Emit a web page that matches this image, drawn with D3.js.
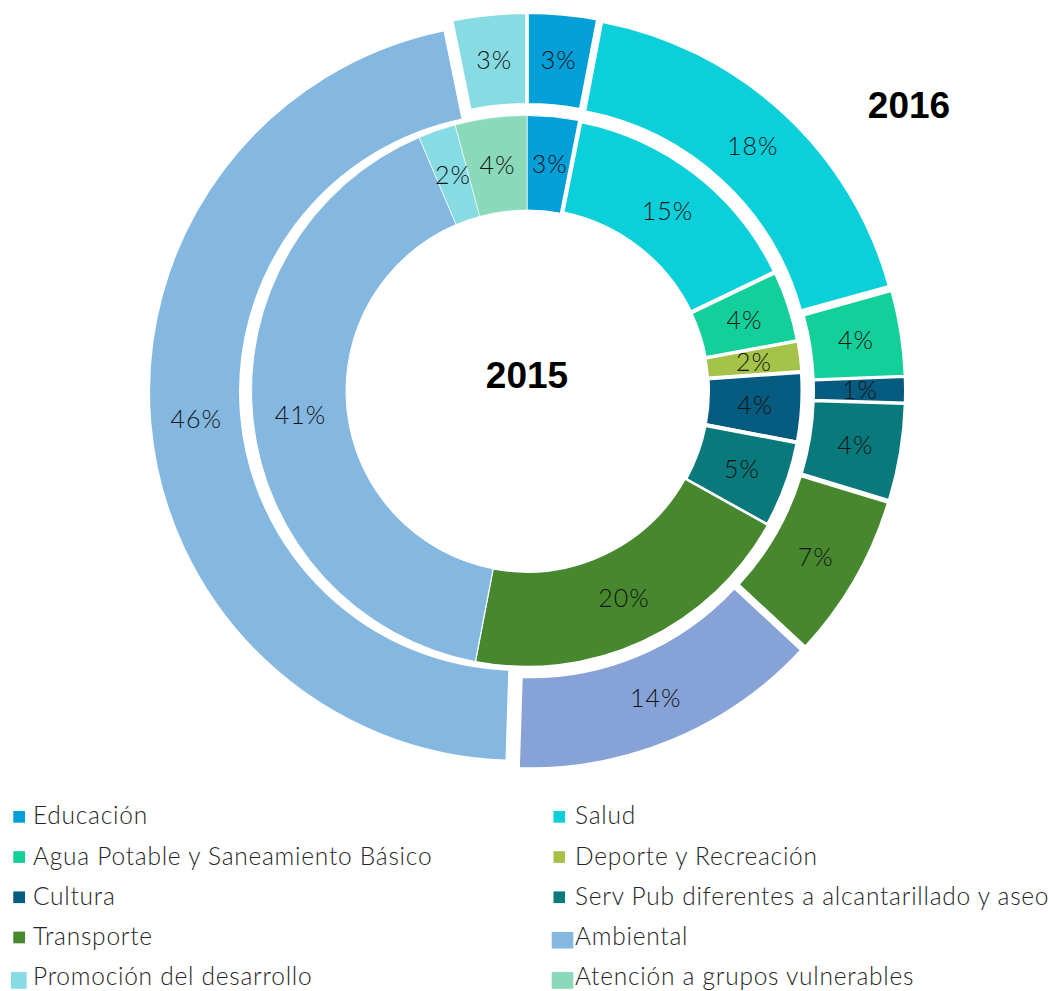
<!DOCTYPE html>
<html>
<head>
<meta charset="utf-8">
<script src="https://cdn.jsdelivr.net/npm/d3@7/dist/d3.min.js"></script>
<style>
  html, body { margin: 0; padding: 0; background: #ffffff; }
  svg { display: block; }
</style>
</head>
<body>
<div id="chart"></div>
<script>
// ---------------- data ----------------
const categories = [
  "Educación",
  "Salud",
  "Agua Potable y Saneamiento Básico",
  "Deporte y Recreación",
  "Cultura",
  "Serv Pub diferentes a alcantarillado y aseo",
  "Transporte",
  "Ambiental",
  "Promoción del desarrollo",
  "Atención a grupos vulnerables",
  "Otros sectores"
];
// ring order, clockwise from 12 o'clock (indices into categories)
const ringOrder = [0, 1, 2, 3, 4, 5, 6, 10, 7, 8, 9];
// shares (%), in categories order
const values2015 = [3.1, 14.8, 4.2, 1.8, 4.1, 5.1, 19.9, 40.6, 2.2, 4.2, 0];
const values2016 = [3.0, 17.7, 3.7, 0, 1.1, 4.2, 7.2, 46.3, 3.2, 0, 13.6];
const ringTitles = ["2015", "2016"];
const legendCategories = categories.slice(0, 10);

// ---------------- styles ----------------
const colors = ["#039fd8", "#0bcfd9", "#13cf99", "#a5c249", "#065b80",
                "#0a797c", "#47882f", "#85b8e0", "#87dce3", "#89d9ba", "#86a2d6"];
const innerStroke = [1, 4.5, 4, 3, 4, 4, 1.5, 1, 0.6, 0.6, 1];
const W = 1049, H = 991;
const cx = 527, cy = 391;
const inner = { r0: 181, r1: 275.5 };
const outer = { r0: 278, r1: 369, explode: 9, stroke: 2 };

const svg = d3.select("#chart").append("svg")
  .attr("width", W).attr("height", H)
  .attr("viewBox", `0 0 ${W} ${H}`);

const g = svg.append("g").attr("transform", `translate(${cx},${cy})`);

const pie = d3.pie().sort(null).value(d => d.v).startAngle(0).endAngle(2 * Math.PI);

function ringData(vals) {
  const total = d3.sum(vals);
  return pie(ringOrder.map(i => ({ i, v: vals[i], pct: vals[i] / total * 100 })))
    .filter(d => d.data.v > 0);
}

const innerArcs = ringData(values2015);
const outerArcs = ringData(values2016);

const arcInner = d3.arc().innerRadius(inner.r0).outerRadius(inner.r1);
const arcOuter = d3.arc().innerRadius(outer.r0).outerRadius(outer.r1);

function offset(d, e) {
  const a = (d.startAngle + d.endAngle) / 2;
  return [e * Math.sin(a), -e * Math.cos(a)];
}

// inner ring (2015)
g.append("g").selectAll("path").data(innerArcs).join("path")
  .attr("d", arcInner)
  .attr("fill", d => colors[d.data.i])
  .attr("stroke", "#ffffff")
  .attr("stroke-width", d => innerStroke[d.data.i])
  .attr("stroke-linejoin", "miter");

// outer ring (2016), exploded
g.append("g").selectAll("path").data(outerArcs).join("path")
  .attr("transform", d => { const o = offset(d, outer.explode); return `translate(${o[0]},${o[1]})`; })
  .attr("d", arcOuter)
  .attr("fill", d => colors[d.data.i])
  .attr("stroke", "#ffffff")
  .attr("stroke-width", outer.stroke)
  .attr("stroke-linejoin", "miter");

// labels
const labelFont = "Lato, 'Open Sans', sans-serif";
function addLabels(arcs, arcGen, e) {
  g.append("g").selectAll("text").data(arcs).join("text")
    .attr("transform", d => {
      const c = arcGen.centroid(d), o = offset(d, e);
      return `translate(${c[0] + o[0] + 0.5},${c[1] + o[1]})`;
    })
    .attr("text-anchor", "middle")
    .attr("dy", "0.36em")
    .attr("font-family", labelFont)
    .attr("font-weight", 300)
    .attr("font-size", 25)
    .attr("letter-spacing", 1)
    .attr("fill", "#141414")
    .text(d => Math.round(d.data.pct) + "%");
}
addLabels(innerArcs, arcInner, 0);
addLabels(outerArcs, arcOuter, outer.explode);

// ring titles
const titleFont = "'Liberation Sans', Arial, sans-serif";
svg.append("text")
  .attr("x", 527).attr("y", 388)
  .attr("text-anchor", "middle")
  .attr("font-family", titleFont).attr("font-weight", 700).attr("font-size", 37)
  .attr("fill", "#000000")
  .text(ringTitles[0]);
svg.append("text")
  .attr("x", 909).attr("y", 118)
  .attr("text-anchor", "middle")
  .attr("font-family", titleFont).attr("font-weight", 700).attr("font-size", 37)
  .attr("fill", "#000000")
  .text(ringTitles[1]);

// legend
const legendCols = [{ mx: 25, tx: 33 }, { mx: 565, tx: 575 }];
const legendRow0 = 824.3, legendRowStep = 40.2;
// marker sizes [width, height, right-edge extra]
const legendMarker = [
  [11.7, 11.7, 0], [11.5, 11.7, 0], [11.7, 11.7, 0], [11.5, 11.7, 0],
  [11.7, 11.7, 0], [11.5, 11.7, 0], [11.7, 11.7, 0], [21.6, 16.7, 8.3],
  [15.7, 16.7, 1.7], [21.6, 16.7, 8.3]
];
const leg = svg.append("g");
legendCategories.forEach((name, k) => {
  const col = legendCols[k % 2];
  const row = Math.floor(k / 2);
  const base = legendRow0 + row * legendRowStep;
  const [mw, mh, ext] = legendMarker[k];
  const right = col.mx + ext;
  const big = mh > 12;
  leg.append("rect")
    .attr("x", right - mw)
    .attr("y", big ? base - 13 : base - 13.3)
    .attr("width", mw).attr("height", mh)
    .attr("fill", colors[categories.indexOf(name)]);
  leg.append("text")
    .attr("x", col.tx).attr("y", base)
    .attr("font-family", labelFont)
    .attr("font-weight", 300)
    .attr("font-size", 24.5)
    .attr("letter-spacing", 0.75)
    .attr("fill", "#262626")
    .text(name);
});
</script>
</body>
</html>
